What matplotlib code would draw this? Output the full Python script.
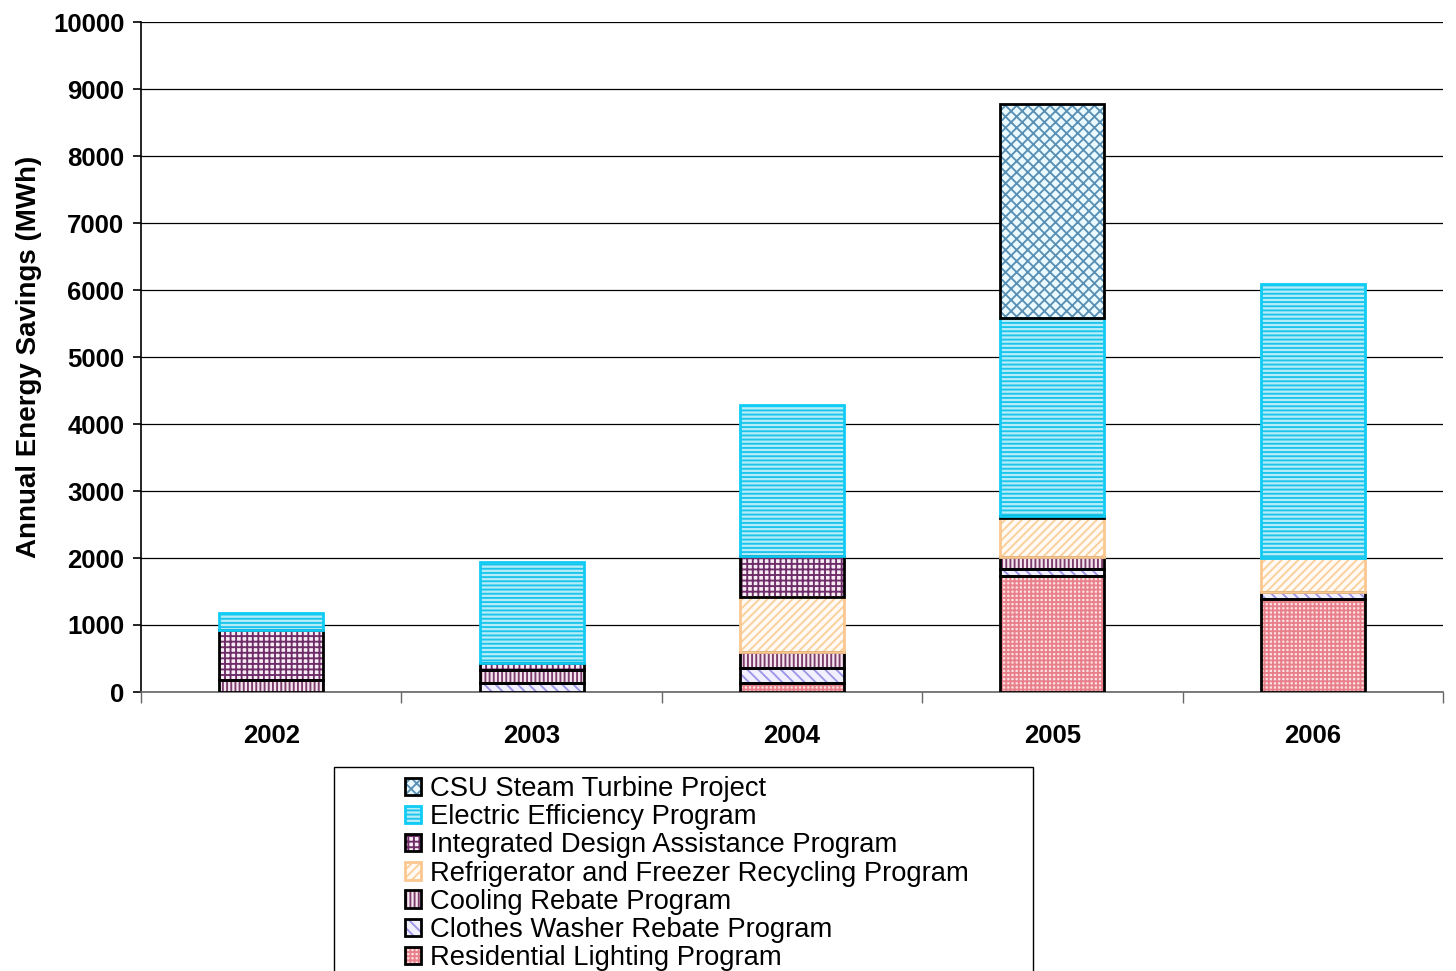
import numpy as np
import matplotlib.pyplot as plt
from matplotlib.patches import Rectangle
from matplotlib.legend_handler import HandlerTuple

plt.rcParams['font.family'] = ['Liberation Sans', 'DejaVu Sans']
plt.rcParams['hatch.linewidth'] = 1.35

years = ['2002', '2003', '2004', '2005', '2006']
# stacked from bottom to top
residential = [0, 0, 130, 1730, 1390]
clothes_washer = [0, 140, 230, 110, 100]
cooling = [180, 190, 240, 180, 0]
refrigerator = [0, 0, 820, 580, 510]
integrated_design = [745, 100, 610, 30, 0]
electric_eff = [255, 1510, 2250, 2950, 4090]
csu_turbine = [0, 0, 0, 3200, 0]

series = [
    ('Residential Lighting Program', residential, '#fde2e2', '#e8808c', '++++', 'black'),
    ('Clothes Washer Rebate Program', clothes_washer, '#f2f0ff', '#9c96e6', '\\\\\\', 'black'),
    ('Cooling Rebate Program', cooling, '#f6e6f0', '#7c3c6c', '||||', 'black'),
    ('Refrigerator and Freezer Recycling Program', refrigerator, '#fffaf3', '#fbcf9c', '////', '#fcc890'),
    ('Integrated Design Assistance Program', integrated_design, '#f8ecf4', '#6e2c68', '+++', 'black'),
    ('Electric Efficiency Program', electric_eff, '#b4ecf8', '#1cc4ec', '----', '#10ccf5'),
    ('CSU Steam Turbine Project', csu_turbine, '#eafaff', '#5a90b4', 'xxx', 'black'),
]

fig = plt.figure(figsize=(14.56, 9.71), dpi=100)
ax = fig.add_axes([141 / 1456, 1 - 692 / 971, 1302 / 1456, 670 / 971])

x = np.arange(len(years))
width = 0.4
bottom = np.zeros(len(years))
handles = []
for name, vals, fc, hc, hatch, ec in series:
    vals = np.array(vals, dtype=float)
    mask = vals > 0
    ax.bar(x[mask], vals[mask], width, bottom=bottom[mask], color=fc,
           edgecolor=hc, hatch=hatch, linewidth=0, zorder=3)
    ax.bar(x[mask], vals[mask], width, bottom=bottom[mask], fill=False,
           edgecolor=ec, linewidth=2, zorder=4)
    bottom += vals
    h1 = Rectangle((0, 0), 1, 1, facecolor=fc, edgecolor=hc, hatch=hatch, linewidth=0)
    h2 = Rectangle((0, 0), 1, 1, fill=False, edgecolor=ec, linewidth=2)
    handles.append((h1, h2))

ax.set_xlim(-0.5, 4.5)
ax.set_ylim(0, 10000)
ax.set_yticks(np.arange(0, 10001, 1000))
ax.set_yticklabels([str(v) for v in range(0, 10001, 1000)],
                   fontsize=18.5, fontweight='bold')
ax.set_xticks(x)
ax.set_xticklabels(years, fontsize=18.5, fontweight='bold')
ax.set_xticks(np.arange(-0.5, 5, 1), minor=True)
ax.tick_params(axis='x', which='major', length=0, pad=23)
ax.tick_params(axis='x', which='minor', length=8, color='#666666', width=1)
ax.tick_params(axis='y', length=6, width=1.2, pad=6)
ax.yaxis.grid(True, color='black', linewidth=0.9, zorder=0)
ax.set_axisbelow(True)
for s in ['top', 'right']:
    ax.spines[s].set_visible(False)
ax.spines['left'].set_linewidth(1.2)
ax.spines['bottom'].set_color('#666666')
ax.spines['bottom'].set_linewidth(1.2)
ax.set_ylabel('Annual Energy Savings (MWh)', fontsize=20, fontweight='bold', labelpad=8)

# legend box
fig.patches.append(Rectangle((334 / 1456, -0.01), (1033 - 334) / 1456, (971 - 767) / 971 + 0.01,
                             transform=fig.transFigure, fill=False,
                             edgecolor='black', linewidth=1))
names = [s[0] for s in series][::-1]
fig.legend(handles[::-1], names, loc='upper left',
           handler_map={tuple: HandlerTuple(ndivide=1, pad=0)},
           bbox_to_anchor=(405 / 1456, 1 - 776 / 971), frameon=False,
           fontsize=19.7, handlelength=0.6, handleheight=0.6,
           handletextpad=0.3, labelspacing=0.08, borderpad=0, borderaxespad=0)

fig.savefig('out.png', dpi=100)
